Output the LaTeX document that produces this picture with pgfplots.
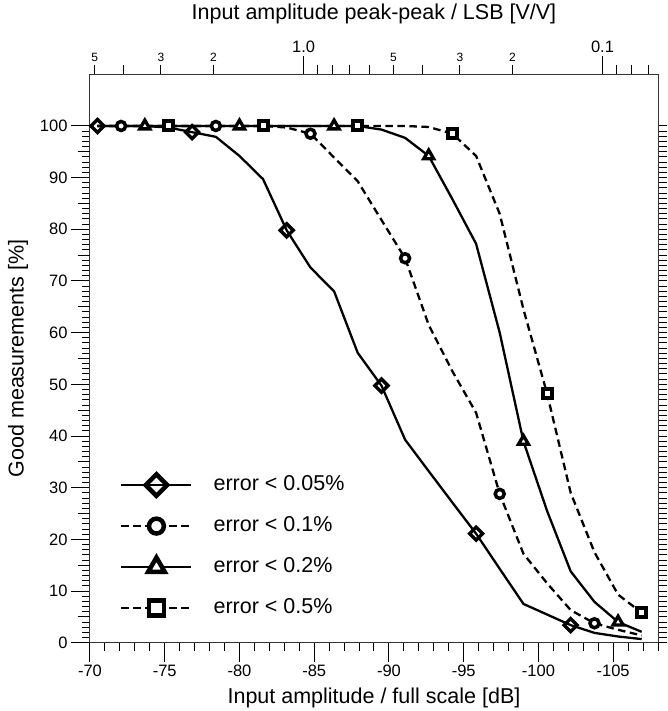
\documentclass[border=0pt]{standalone}
\usepackage{pgfplots}
\usepackage{pgfplotstable}
\pgfplotsset{compat=1.18}
\usepackage{fontspec}
\setmainfont{Liberation Sans}
\pgfplotsset{
  legend image code/.code={\draw[#1, mark repeat=2, mark phase=2] plot coordinates {(0pt,0pt) (35pt,0pt) (70pt,0pt)};},
}
\pgfplotstableread{
x d c t s
-70.50 100 100 100 100
-72.08 100 100 100 100
-73.67 100 100 100 100
-75.25 99.7 100 100 100
-76.83 98.8 100 100 100
-78.42 97.9 100 100 100
-80.00 94.2 100 100 100
-81.58 89.7 100 100 100
-83.16 79.8 99.7 100 100
-84.75 72.6 98.5 100 100
-86.33 68.0 93.9 100 100
-87.91 56.1 89.3 100 100
-89.50 49.75 81.8 99.3 100
-91.08 39.3 74.4 97.7 100
-92.66 33.2 61.5 94.2 99.8
-94.25 27.1 52.5 85.8 98.5
-95.83 21.1 44.5 77.2 94.2
-97.41 14.3 28.8 60.0 83.0
-99.00 7.5 17.2 38.95 64.5
-100.58 5.45 11.5 25.5 48.2
-102.16 3.4 6.3 13.8 29.0
-103.75 1.9 3.76 7.9 17.5
-105.33 1.2 2.5 4.0 9.3
-106.91 0.7 1.4 2.1 5.8
}\data
\begin{document}
\begin{tikzpicture}
\useasboundingbox (-90pt,-68.3pt) rectangle (577pt,642.7pt);
% top axis (log scale of amplitude, positioned in dB)
\begin{axis}[
  at={(0pt,0pt)}, anchor=south west,
  scale only axis, width=568pt, height=568.4pt,
  x dir=reverse, xmin=-108, xmax=-70, ymin=0, ymax=110,
  axis x line*=top, hide y axis,
  axis line style={line width=1pt, black!80},
  tick style={black, line width=1pt},
  tick align=outside,
  xtick={-84.288,-104.288},
  xticklabels={1.0,0.1},
  minor xtick={-72.247,-85.203,-86.226,-87.386,-88.725,-92.247,-105.203,-106.226,-107.386},
  extra x ticks={-70.309,-74.746,-78.267,-90.309,-94.746,-98.267},
  extra x tick labels={5,3,2,5,3,2},
  extra x tick style={major tick length=9pt, tick label style={font=\fontsize{12}{14}\selectfont}},
  major tick length=18pt, minor tick length=9pt,
  tick label style={font=\fontsize{16.5}{19}\selectfont},
  xlabel={Input amplitude peak-peak / LSB [V/V]},
  xlabel style={font=\fontsize{21.5}{25}\selectfont, at={(axis description cs:0.5,1.106)}, anchor=center},
]
\addplot[draw=none] coordinates {(-80,50)};
\end{axis}
% right ticks
\begin{axis}[
  at={(0pt,0pt)}, anchor=south west,
  scale only axis, width=568pt, height=568.4pt,
  x dir=reverse, xmin=-108, xmax=-70, ymin=0, ymax=110,
  axis y line*=right, hide x axis,
  axis line style={line width=1pt, black!80},
  tick style={black, line width=1pt},
  tick align=outside,
  ytick={0,1,...,100}, yticklabels={},
  major tick length=9pt,
]
\addplot[draw=none] coordinates {(-80,50)};
\end{axis}
% main axis
\begin{axis}[
  at={(0pt,0pt)}, anchor=south west,
  scale only axis, width=568pt, height=568.4pt,
  x dir=reverse, xmin=-108, xmax=-70, ymin=0, ymax=110,
  axis line style={line width=1pt, black!80},
  tick style={black, line width=1pt},
  tick align=outside,
  xtick pos=left, ytick pos=left,
  xtick={-70,-75,-80,-85,-90,-95,-100,-105},
  xticklabels={-70,-75,-80,-85,-90,-95,-100,-105},
  minor xtick={-108,-107,...,-70},
  ytick={0,10,...,100},
  yticklabels={0,10,20,30,40,50,60,70,80,90,100},
  minor ytick={0,1,...,100},
  extra y ticks={5,15,...,95},
  extra y tick labels={},
  extra y tick style={major tick length=12pt},
  major tick length=19pt, minor tick length=8pt,
  tick label style={font=\fontsize{16.5}{19}\selectfont},
  xlabel={Input amplitude / full scale [dB]},
  ylabel={Good measurements [\%]},
  label style={font=\fontsize{21.5}{25}\selectfont},
  xlabel style={at={(axis description cs:0.5,-0.0973)}, anchor=center},
  ylabel style={at={(axis description cs:-0.1268,0.5)}, anchor=center},
  legend style={draw=none, fill=none, inner sep=0pt, at={(axis description cs:0.053,0.297)}, anchor=north west,
    font=\fontsize{21.5}{25}\selectfont, row sep=19pt,
    nodes={inner sep=1pt, text height=15pt, text depth=5pt},
    /tikz/every odd column/.append style={column sep=20pt}},
  legend cell align=left,
  legend image post style={every mark/.append style={scale=1.65, line width=4.5pt}},
]
\addplot[black, line width=2.3pt, mark=square, mark repeat=4, mark phase=1, mark size=4.6pt,
  mark options={solid, fill=white, line width=3.4pt, rotate=45}] table[x=x, y=d] {\data};
\addlegendentry{error < 0.05\%}
\addplot[black, line width=2.3pt, dash pattern=on 7.5pt off 4.5pt, mark=*, mark repeat=4, mark phase=2, mark size=4.5pt,
  mark options={solid, fill=white, line width=3.5pt}] table[x=x, y=c] {\data};
\addlegendentry{error < 0.1\%}
\addplot[black, line width=2.3pt, mark=triangle*, mark repeat=4, mark phase=3, mark size=5.8pt,
  mark options={solid, fill=white, line width=3.3pt}] table[x=x, y=t] {\data};
\addlegendentry{error < 0.2\%}
\addplot[black, line width=2.3pt, dash pattern=on 7.5pt off 4.5pt, mark=square*, mark repeat=4, mark phase=4, mark size=4.5pt,
  mark options={solid, fill=white, line width=4pt}] table[x=x, y=s] {\data};
\addlegendentry{error < 0.5\%}
\end{axis}
\end{tikzpicture}
\end{document}
